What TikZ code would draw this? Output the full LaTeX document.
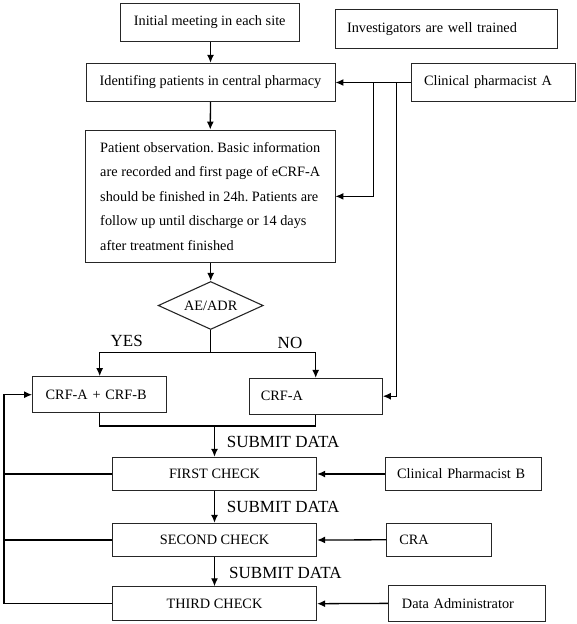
\documentclass[tikz,border=0pt]{standalone}
\usepackage{fontspec}
\setmainfont{Liberation Serif}
\usetikzlibrary{arrows.meta,shapes.geometric}
\frenchspacing
\tikzset{
  box/.style={draw=black!85, line width=0.9pt, rectangle, inner sep=0pt, font=\fontsize{14.3}{17}\selectfont, align=center},
  lbox/.style={box, align=left},
  arr/.style={line width=1.3pt, -{Latex[length=8pt,width=7pt]}},
  ln/.style={line width=1.3pt},
  lab/.style={font=\fontsize{17}{19}\selectfont, inner sep=0pt}
}
\begin{document}
\begin{tikzpicture}[x=1pt,y=1pt]
\useasboundingbox (0,0) rectangle (576,-624);
% boxes
\node[box, minimum width=179.3pt, minimum height=38.4pt] (init) at (209.7,-22.5) {Initial meeting in each site};
\node[lbox, minimum width=222pt, minimum height=39pt, text width=198pt, inner xsep=12pt] (invest) at (446,-28.8) {Investigators are well trained};
\node[box, minimum width=249pt, minimum height=38.4pt] (ident) at (210.5,-82.5) {Identifing patients in central pharmacy};
\node[lbox, minimum width=164pt, minimum height=38.4pt, text width=138pt, inner xsep=13pt] (cpa) at (493,-82.5) {Clinical pharmacist A};
\node[lbox, minimum width=249.5pt, minimum height=132.7pt, font=\fontsize{14.3}{24.4}\selectfont] (patient) at (210.25,-196.35) {Patient observation. Basic information\\ are recorded and first page of eCRF-A\\ should be finished in 24h. Patients are\\ follow up until discharge or 14 days\\ after treatment finished};
\node[draw=black!85, line width=1.1pt, diamond, aspect=2.2, inner sep=0pt, minimum width=105pt, minimum height=48pt, font=\fontsize{14.3}{17}\selectfont] (dia) at (210.7,-305.5) {AE/ADR};
\node[lbox, line width=1.2pt, minimum width=134pt, minimum height=36pt, text width=108pt, inner xsep=13pt] (crfab) at (99.7,-394.7) {CRF-A + CRF-B};
\node[lbox, minimum width=133.3pt, minimum height=35.7pt, text width=109.9pt, inner xsep=11.7pt] (crfa) at (315.7,-396.2) {CRF-A};
\node[box, minimum width=204.4pt, minimum height=33.4pt] (first) at (214.5,-474) {FIRST CHECK};
\node[box, minimum width=204.4pt, minimum height=33.4pt] (second) at (214.5,-540) {SECOND CHECK};
\node[box, minimum width=204.4pt, minimum height=34pt] (third) at (214.5,-603.7) {THIRD CHECK};
\node[lbox, minimum width=156.7pt, minimum height=33.4pt, text width=132.3pt, inner xsep=12.2pt] (cpb) at (463.35,-474) {Clinical Pharmacist B};
\node[lbox, minimum width=104.3pt, minimum height=33pt, text width=79.1pt, inner xsep=12.6pt] (cra) at (438.85,-539.8) {CRA};
\node[lbox, minimum width=157.4pt, minimum height=35.3pt, text width=130.1pt, inner xsep=13.65pt] (dadm) at (467,-603.35) {Data Administrator};
% labels
\node[lab] (yes) at (126.7,-341) {YES};
\node[lab] (no) at (290,-343.3) {NO};
\node[lab, anchor=west] (sd1) at (226.7,-441.7) {SUBMIT DATA};
\node[lab, anchor=west] (sd2) at (226.7,-507.3) {SUBMIT DATA};
\node[lab, anchor=west] (sd3) at (229,-572.7) {SUBMIT DATA};
% coordinates
\coordinate (split) at (210.7,-352.7);
\coordinate (merge) at (214.5,-426);
\coordinate (ca1) at (373.3,-82.5);
\coordinate (ca2) at (396.7,-82.5);
\coordinate (fbtop) at (4,-394.7);
% main flow
\draw[arr] (init.south -| ident.north) -- (ident.north);
\draw[arr] (ident.south) -- (patient.north);
\draw[arr] (patient.south -| dia.north) -- (dia.north);
\draw[ln] (dia.south) -- (split);
\draw[arr] (split) -| (crfab.north);
\draw[arr] (split) -| (crfa.north);
\draw[ln] (crfab.south) |- (crfa.south |- merge) -- (crfa.south);
\draw[arr] (merge) -- (first.north);
\draw[arr] (first.south) -- (second.north);
\draw[arr] (second.south) -- (third.north);
% clinical pharmacist A
\draw[arr] (cpa.west) -- (ident.east);
\draw[arr] (ca1) |- (patient.east);
\draw[arr] (ca2) |- (crfa.east);
% checkers
\draw[arr] (cpb.west) -- (first.east);
\draw[arr] (cra.west) -- (second.east);
\draw[arr] (dadm.west) -- (third.east);
% feedback
\draw[arr] (third.west) -| (fbtop) -- (crfab.west);
\draw[ln] (first.west) -- (first.west -| fbtop);
\draw[ln] (second.west) -- (second.west -| fbtop);
\end{tikzpicture}
\end{document}
